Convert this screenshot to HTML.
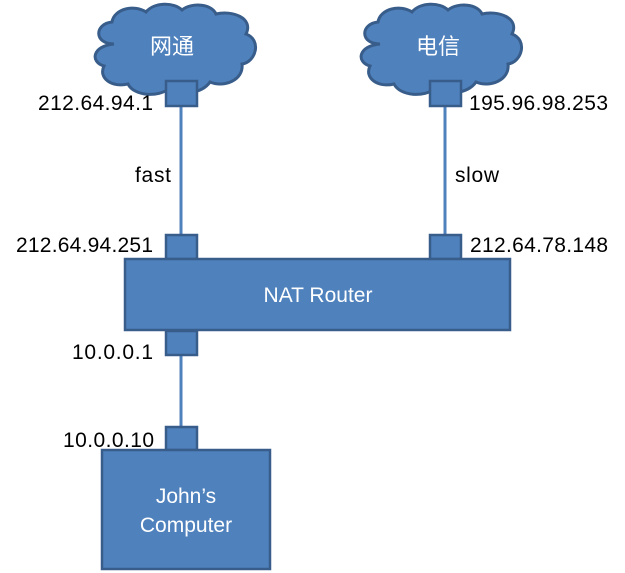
<!DOCTYPE html>
<html><head><meta charset="utf-8"><style>body{margin:0;background:#fff}</style></head><body>
<svg width="625" height="573" xmlns="http://www.w3.org/2000/svg" style="display:block">
<defs>
<path id="cloud" d="M20,40 C0,40 0,20 18,18 C20,5 40,0 52,8 C60,-2 80,-2 88,6 C98,-2 118,0 122,10 C138,6 160,14 152,30 C168,36 162,58 148,60 C150,76 130,84 116,78 C108,90 86,92 76,84 C64,94 40,92 34,80 C18,84 4,74 10,62 C-4,58 -2,42 20,40 Z"/>
</defs>
<g fill="#4f81bd" stroke="#385d8a" stroke-width="3">
<use href="#cloud" transform="translate(94,4)"/>
<use href="#cloud" transform="translate(360,4)"/>
</g>
<g stroke="#4f81bd" stroke-width="3">
<line x1="181" y1="106" x2="181" y2="235"/>
<line x1="445" y1="106" x2="445" y2="235"/>
<line x1="181" y1="355" x2="181" y2="427"/>
</g>
<g fill="#4f81bd" stroke="#385d8a" stroke-width="2.5">
<rect x="166" y="81" width="31" height="25"/>
<rect x="430" y="81" width="31" height="25"/>
<rect x="166" y="235" width="31" height="24"/>
<rect x="430" y="235" width="31" height="24"/>
<rect x="166" y="331" width="31" height="24"/>
<rect x="166" y="427" width="31" height="23"/>
<rect x="125" y="259" width="385" height="71"/>
<rect x="102" y="450" width="168" height="119"/>
</g>
<g font-family="Liberation Sans, Noto Sans CJK SC, sans-serif" font-size="21" fill="#fff" text-anchor="middle">
<text x="172" y="54" font-size="22">网通</text>
<text x="438" y="54" font-size="22">电信</text>
<text x="318" y="302">NAT Router</text>
<text x="186" y="503">John’s</text>
<text x="186" y="532">Computer</text>
</g>
<g font-family="Liberation Sans, sans-serif" font-size="21" fill="#000" lengthAdjust="spacingAndGlyphs">
<text x="38" y="110" textLength="115">212.64.94.1</text>
<text x="469" y="110" textLength="139">195.96.98.253</text>
<text x="135" y="182" textLength="36">fast</text>
<text x="455" y="182" textLength="44">slow</text>
<text x="16" y="252" textLength="137">212.64.94.251</text>
<text x="470" y="252" textLength="138">212.64.78.148</text>
<text x="72" y="359" textLength="81">10.0.0.1</text>
<text x="63" y="447" textLength="91">10.0.0.10</text>
</g>
</svg>
</body></html>
